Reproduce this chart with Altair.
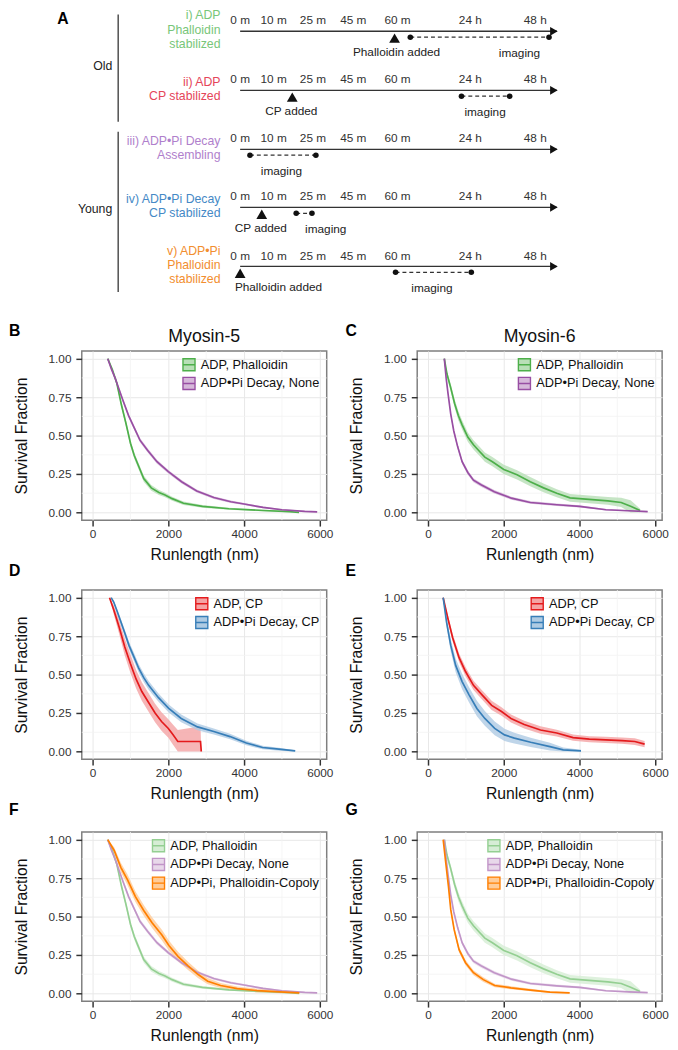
import altair as alt
import pandas as pd

FONT = "Liberation Sans"

# ---------------- Panel A: schematic timelines ----------------
time_labels = ["0 m", "10 m", "25 m", "45 m", "60 m", "24 h", "48 h"]
time_pos = [0, 34, 74, 115, 160, 234, 300]
timeline_end = 322

row_titles = [
    ["i) ADP", "Phalloidin", "stabilized"],
    ["ii) ADP", "CP stabilized"],
    ["iii) ADP•Pi Decay", "Assembling"],
    ["iv) ADP•Pi Decay", "CP stabilized"],
    ["v) ADP•Pi", "Phalloidin", "stabilized"],
]
row_colors = ["#78c679", "#e5455a", "#b07fcc", "#4589c6", "#f28e2f"]
row_y = [28, 88, 148, 207, 267]

added_row = [0, 1, 3, 4]
added_pos = [157, 53, 22, 0]
added_text = ["Phalloidin added", "CP added", "CP added", "Phalloidin added"]
added_text_pos = [159, 52, 21, 39]

imaging_row = [0, 1, 2, 3, 4]
imaging_start = [173, 225, 10, 57, 158]
imaging_end = [314, 274, 77, 73, 235]
imaging_text_pos = [284, 249, 42, 87, 195]

groups = ["Old", "Young"]
group_top = [11, 130]
group_bottom = [120, 293]
group_mid = [63, 209]

# ---------------- Survival curves (Runlength nm, survival fraction, CI half-width) ----------------
m5_phal_x = [400, 520, 640, 760, 880, 1000, 1100, 1200, 1350, 1550, 1750, 1900, 2100, 2400, 2900, 3600, 4500, 5200, 5450]
m5_phal_y = [1.00, 0.93, 0.84, 0.70, 0.58, 0.45, 0.37, 0.31, 0.22, 0.16, 0.13, 0.115, 0.09, 0.06, 0.04, 0.024, 0.013, 0.006, 0.0]
m5_phal_e = [0, 0.01, 0.015, 0.018, 0.02, 0.02, 0.02, 0.02, 0.02, 0.018, 0.016, 0.015, 0.013, 0.011, 0.009, 0.007, 0.005, 0.004, 0.004]

m5_none_x = [400, 500, 600, 700, 800, 950, 1100, 1250, 1450, 1700, 2000, 2350, 2750, 3200, 3650, 4000, 4500, 5000, 5600, 5930]
m5_none_y = [1.00, 0.93, 0.87, 0.80, 0.73, 0.63, 0.55, 0.47, 0.405, 0.33, 0.265, 0.20, 0.14, 0.097, 0.07, 0.055, 0.033, 0.018, 0.007, 0.004]
m5_none_e = [0, 0.008, 0.01, 0.012, 0.013, 0.014, 0.014, 0.014, 0.014, 0.013, 0.012, 0.011, 0.01, 0.009, 0.008, 0.007, 0.006, 0.005, 0.004, 0.003]

m6_phal_x = [430, 500, 600, 700, 800, 900, 1050, 1200, 1350, 1500, 1700, 2000, 2350, 2700, 3050, 3400, 3750, 4250, 4750, 5100, 5350, 5600]
m6_phal_y = [1.00, 0.90, 0.81, 0.71, 0.63, 0.57, 0.49, 0.44, 0.40, 0.36, 0.33, 0.28, 0.245, 0.20, 0.16, 0.125, 0.095, 0.085, 0.075, 0.065, 0.04, 0.013]
m6_phal_e = [0, 0.02, 0.025, 0.028, 0.03, 0.03, 0.03, 0.03, 0.03, 0.03, 0.03, 0.03, 0.03, 0.03, 0.028, 0.026, 0.025, 0.025, 0.025, 0.03, 0.04, 0.012]

m6_none_x = [430, 480, 530, 600, 680, 780, 900, 1050, 1200, 1400, 1750, 2200, 2700, 3400, 4000, 4700, 5300, 5800]
m6_none_y = [1.00, 0.87, 0.77, 0.64, 0.53, 0.43, 0.33, 0.26, 0.21, 0.18, 0.135, 0.093, 0.065, 0.05, 0.04, 0.018, 0.011, 0.006]
m6_none_e = [0, 0.01, 0.012, 0.014, 0.015, 0.015, 0.015, 0.014, 0.013, 0.012, 0.011, 0.01, 0.009, 0.008, 0.007, 0.005, 0.004, 0.003]

m5_cpadp_x = [447, 560, 700, 850, 1000, 1150, 1300, 1450, 1650, 1820, 2000, 2120, 2250, 2850, 2870]
m5_cpadp_y = [1.00, 0.92, 0.81, 0.68, 0.57, 0.47, 0.39, 0.33, 0.25, 0.195, 0.15, 0.11, 0.065, 0.065, 0.0]
m5_cpadp_e = [0, 0.03, 0.045, 0.055, 0.06, 0.06, 0.06, 0.06, 0.06, 0.06, 0.06, 0.065, 0.075, 0.1, 0.0]

m5_cppi_x = [490, 560, 650, 750, 850, 960, 1100, 1220, 1350, 1480, 1740, 2010, 2340, 2770, 3200, 3630, 4060, 4490, 4920, 5350]
m5_cppi_y = [1.00, 0.97, 0.91, 0.84, 0.77, 0.69, 0.61, 0.54, 0.48, 0.43, 0.35, 0.28, 0.215, 0.16, 0.13, 0.097, 0.055, 0.026, 0.015, 0.004]
m5_cppi_e = [0, 0.01, 0.015, 0.02, 0.022, 0.025, 0.027, 0.028, 0.028, 0.028, 0.027, 0.026, 0.025, 0.022, 0.02, 0.018, 0.015, 0.012, 0.01, 0.005]

m6_cpadp_x = [400, 520, 650, 820, 990, 1200, 1420, 1680, 1940, 2190, 2540, 2970, 3400, 3830, 4260, 4690, 5120, 5460, 5720]
m6_cpadp_y = [1.0, 0.87, 0.74, 0.61, 0.52, 0.43, 0.37, 0.30, 0.26, 0.215, 0.175, 0.14, 0.12, 0.09, 0.08, 0.076, 0.071, 0.065, 0.048]
m6_cpadp_e = [0, 0.02, 0.025, 0.028, 0.03, 0.03, 0.03, 0.03, 0.028, 0.026, 0.025, 0.024, 0.022, 0.02, 0.02, 0.02, 0.02, 0.022, 0.02]

m6_cppi_x = [400, 490, 600, 730, 900, 1080, 1290, 1500, 1760, 2020, 2280, 2710, 3220, 3570, 4040]
m6_cppi_y = [1.0, 0.84, 0.69, 0.56, 0.455, 0.37, 0.28, 0.215, 0.15, 0.108, 0.087, 0.06, 0.032, 0.011, 0.004]
m6_cppi_e = [0, 0.03, 0.04, 0.045, 0.05, 0.05, 0.05, 0.048, 0.045, 0.04, 0.035, 0.03, 0.025, 0.015, 0.008]

m5_copoly_x = [400, 570, 745, 920, 1130, 1350, 1570, 1830, 2020, 2260, 2520, 2780, 3040, 3380, 3820, 4340, 4940, 5460]
m5_copoly_y = [1.0, 0.93, 0.82, 0.74, 0.63, 0.54, 0.46, 0.38, 0.31, 0.24, 0.18, 0.125, 0.08, 0.052, 0.032, 0.019, 0.011, 0.004]
m5_copoly_e = [0, 0.02, 0.03, 0.035, 0.035, 0.035, 0.035, 0.035, 0.033, 0.03, 0.027, 0.024, 0.02, 0.017, 0.014, 0.012, 0.01, 0.006]

m6_copoly_x = [400, 470, 540, 600, 690, 820, 990, 1200, 1460, 1760, 2190, 2710, 3220, 3740]
m6_copoly_y = [1.0, 0.845, 0.695, 0.545, 0.415, 0.285, 0.2, 0.135, 0.09, 0.052, 0.037, 0.022, 0.009, 0.004]
m6_copoly_e = [0, 0.01, 0.015, 0.018, 0.018, 0.018, 0.017, 0.016, 0.015, 0.012, 0.01, 0.008, 0.006, 0.004]

S_PHAL = "ADP, Phalloidin"
S_NONE = "ADP•Pi Decay, None"
S_CPADP = "ADP, CP"
S_CPPI = "ADP•Pi Decay, CP"
S_COPOLY = "ADP•Pi, Phalloidin-Copoly"

x_ticks = [0, 2000, 4000, 6000]
y_ticks = [0, 0.25, 0.5, 0.75, 1.0]
x_minor = [1000, 3000, 5000]
y_minor = [0.125, 0.375, 0.625, 0.875]

# ---------------- layout / style constants ----------------
A_W, A_H = 588, 320
A_XDOM = [-161, 427]
A_YDOM = [4, 4 + A_H]
ROW_TITLE_X = -20
BRACKET_X = -124
GROUP_TEXT_X = -130
LETTER_A_X = -186
LETTER_A_Y = 21
P_W, P_H = 249, 172
X_DOM = [-286, 6182]
Y_DOM = [-0.05, 1.05]
LEGEND_SYMBOL = "M-1,-1H1V1H-1Z M-1,0H1"
IND = dict(fill="independent", stroke="independent", color="independent")

X_AXIS = alt.Axis(
    values=x_ticks, format="d", title="Runlength (nm)", grid=True, gridColor="#e8e8e8", gridWidth=1,
    domain=False, tickColor="#333", tickWidth=1.5, tickSize=6, labelFontSize=12,
    labelColor="#333", labelPadding=3, labelFlush=False, titleFontSize=16,
    titleFontWeight="normal", titleColor="#111", titlePadding=7, labelFont=FONT, titleFont=FONT)
Y_AXIS = alt.Axis(
    values=y_ticks, format=".2f", title="Survival Fraction", grid=True, gridColor="#e8e8e8",
    gridWidth=1, domain=False, tickColor="#333", tickWidth=1.5, tickSize=6, labelFontSize=12,
    labelColor="#333", labelPadding=5, titleFontSize=16, titleFontWeight="normal",
    titleColor="#111", titlePadding=19, labelFont=FONT, titleFont=FONT)


def curve(name, xs, ys, es):
    return pd.DataFrame({
        "series": name, "x": xs, "y": ys,
        "lo": [max(0.0, a - e) for a, e in zip(ys, es)],
        "hi": [min(1.0, a + e) for a, e in zip(ys, es)],
    })


letter_dx = {"B": -74, "C": -73, "D": -74, "E": -73, "F": -74, "G": -73}


def survival_panel(curves, order, stroke_range, fill_range, letter, letter_dy, title=None):
    df = pd.concat(curves, ignore_index=True)
    xs = alt.Scale(domain=X_DOM, nice=False, zero=False)
    ys = alt.Scale(domain=Y_DOM, nice=False, zero=False)
    leg = dict(title=None, orient="top-right", offset=7, padding=0,
               labelFontSize=13, labelFont=FONT, labelColor="#111", labelLimit=300,
               labelOffset=5, symbolType=LEGEND_SYMBOL, symbolSize=150,
               symbolStrokeWidth=1.4, rowPadding=1, symbolOpacity=1)

    gx = alt.Chart(pd.DataFrame({"v": x_minor})).mark_rule(color="#f3f3f3", strokeWidth=0.8).encode(
        x=alt.X("v:Q", scale=xs, axis=X_AXIS))
    gy = alt.Chart(pd.DataFrame({"v": y_minor})).mark_rule(color="#f3f3f3", strokeWidth=0.8).encode(
        y=alt.Y("v:Q", scale=ys, axis=Y_AXIS))

    area = alt.Chart(df).mark_area(fillOpacity=0.8).encode(
        x=alt.X("x:Q", scale=xs, axis=X_AXIS),
        y=alt.Y("lo:Q", scale=ys, axis=Y_AXIS),
        y2="hi:Q",
        fill=alt.Fill("series:N", scale=alt.Scale(domain=order, range=fill_range), legend=alt.Legend(**leg)),
    )
    line = alt.Chart(df).mark_line(strokeWidth=1.7).encode(
        x=alt.X("x:Q", scale=xs, axis=X_AXIS),
        y=alt.Y("y:Q", scale=ys, axis=Y_AXIS),
        stroke=alt.Stroke("series:N", scale=alt.Scale(domain=order, range=stroke_range), legend=alt.Legend(**leg)),
    )
    lt = alt.Chart(pd.DataFrame({"t": [letter]})).mark_text(
        align="left", baseline="alphabetic", fontSize=16, fontWeight="bold", font=FONT, color="#000"
    ).encode(text="t:N", x=alt.value(letter_dx[letter]), y=alt.value(letter_dy))
    layers = [gx, gy, area, line, lt]
    if title:
        tt = alt.Chart(pd.DataFrame({"t": [title]})).mark_text(
            align="center", baseline="alphabetic", fontSize=18, font=FONT, color="#111"
        ).encode(text="t:N", x=alt.value(P_W / 2), y=alt.value(-9))
        layers.append(tt)
    return alt.layer(*layers).properties(
        width=P_W, height=P_H, view=alt.ViewBackground(stroke="#7f7f7f", strokeWidth=1.5, fill="white"))


GREEN, PURPLE, RED, BLUE, ORANGE = "#4daf4a", "#984ea3", "#e41a1c", "#377eb8", "#ff7f00"
GREEN_L, PURPLE_L, RED_L, BLUE_L, ORANGE_L = "#b8dfb7", "#d6b8da", "#f4a3a4", "#afcbe3", "#ffcc99"
GREEN_M, PURPLE_M = "#94cf92", "#c195c8"
GREEN_XL, PURPLE_XL = "#d6edd5", "#e8d8ea"

pB = survival_panel([curve(S_PHAL, m5_phal_x, m5_phal_y, m5_phal_e), curve(S_NONE, m5_none_x, m5_none_y, m5_none_e)],
                    [S_PHAL, S_NONE], [GREEN, PURPLE], [GREEN_L, PURPLE_L], "B", -15, "Myosin-5")
pC = survival_panel([curve(S_PHAL, m6_phal_x, m6_phal_y, m6_phal_e), curve(S_NONE, m6_none_x, m6_none_y, m6_none_e)],
                    [S_PHAL, S_NONE], [GREEN, PURPLE], [GREEN_L, PURPLE_L], "C", -15, "Myosin-6")
pD = survival_panel([curve(S_CPADP, m5_cpadp_x, m5_cpadp_y, m5_cpadp_e), curve(S_CPPI, m5_cppi_x, m5_cppi_y, m5_cppi_e)],
                    [S_CPADP, S_CPPI], [RED, BLUE], [RED_L, BLUE_L], "D", -14)
pE = survival_panel([curve(S_CPADP, m6_cpadp_x, m6_cpadp_y, m6_cpadp_e), curve(S_CPPI, m6_cppi_x, m6_cppi_y, m6_cppi_e)],
                    [S_CPADP, S_CPPI], [RED, BLUE], [RED_L, BLUE_L], "E", -14)
pF = survival_panel([curve(S_PHAL, m5_phal_x, m5_phal_y, m5_phal_e), curve(S_NONE, m5_none_x, m5_none_y, m5_none_e),
                     curve(S_COPOLY, m5_copoly_x, m5_copoly_y, m5_copoly_e)],
                    [S_PHAL, S_NONE, S_COPOLY], [GREEN_M, PURPLE_M, ORANGE], [GREEN_XL, PURPLE_XL, ORANGE_L], "F", -17)
pG = survival_panel([curve(S_PHAL, m6_phal_x, m6_phal_y, m6_phal_e), curve(S_NONE, m6_none_x, m6_none_y, m6_none_e),
                     curve(S_COPOLY, m6_copoly_x, m6_copoly_y, m6_copoly_e)],
                    [S_PHAL, S_NONE, S_COPOLY], [GREEN_M, PURPLE_M, ORANGE], [GREEN_XL, PURPLE_XL, ORANGE_L], "G", -17)

# ---------------- Panel A construction ----------------
xa = alt.Scale(domain=A_XDOM, nice=False, zero=False)
ya = alt.Scale(domain=A_YDOM, nice=False, zero=False, reverse=True)

lines_df = pd.DataFrame({"y": row_y, "x0": 0, "x1": timeline_end, "xh": timeline_end - 3})
tl = alt.Chart(lines_df).mark_rule(color="#333", strokeWidth=1.4).encode(
    x=alt.X("x0:Q", scale=xa, axis=None), x2="x1:Q", y=alt.Y("y:Q", scale=ya, axis=None))
heads = alt.Chart(lines_df).mark_point(shape="triangle-right", filled=True, size=80, color="#111", opacity=1).encode(
    x=alt.X("xh:Q", scale=xa, axis=None), y=alt.Y("y:Q", scale=ya, axis=None))

tick_rows = [{"label": lab, "x": p, "y": ry - 11} for ry in row_y for lab, p in zip(time_labels, time_pos)]
ticks_t = alt.Chart(pd.DataFrame(tick_rows)).mark_text(fontSize=12, color="#333", baseline="middle", font=FONT).encode(
    x=alt.X("x:Q", scale=xa, axis=None), y=alt.Y("y:Q", scale=ya, axis=None), text="label:N")

title_rows = []
for i, lines in enumerate(row_titles):
    n = len(lines)
    for k, t in enumerate(lines):
        title_rows.append({"row": str(i), "t": t, "x": ROW_TITLE_X, "y": row_y[i] - 1.5 + (k - (n - 1) / 2) * 14.5})
rtitles = alt.Chart(pd.DataFrame(title_rows)).mark_text(align="right", baseline="middle", fontSize=12.5, font=FONT).encode(
    x=alt.X("x:Q", scale=xa, axis=None), y=alt.Y("y:Q", scale=ya, axis=None), text="t:N",
    color=alt.Color("row:N", scale=alt.Scale(domain=[str(i) for i in range(5)], range=row_colors), legend=None))

added_df = pd.DataFrame({"x": added_pos, "y": [row_y[r] + 7 for r in added_row],
                         "tx": added_text_pos, "ty": [row_y[r] + 21 for r in added_row], "t": added_text})
tri = alt.Chart(added_df).mark_point(shape="triangle-up", filled=True, size=120, color="#111", opacity=1).encode(
    x=alt.X("x:Q", scale=xa, axis=None), y=alt.Y("y:Q", scale=ya, axis=None))
tri_t = alt.Chart(added_df).mark_text(fontSize=12, color="#222", baseline="middle", font=FONT).encode(
    x=alt.X("tx:Q", scale=xa, axis=None), y=alt.Y("ty:Q", scale=ya, axis=None), text="t:N")

img_df = pd.DataFrame({"x0": imaging_start, "x1": imaging_end, "y": [row_y[r] + 6 for r in imaging_row],
                       "tx": imaging_text_pos, "ty": [row_y[r] + 22 for r in imaging_row], "t": "imaging"})
img_pts = pd.DataFrame({"x": imaging_start + imaging_end, "y": [row_y[r] + 6 for r in imaging_row] * 2})
img_l = alt.Chart(img_df).mark_rule(color="#333", strokeWidth=1.3, strokeDash=[4, 3]).encode(
    x=alt.X("x0:Q", scale=xa, axis=None), x2="x1:Q", y=alt.Y("y:Q", scale=ya, axis=None))
img_c = alt.Chart(img_pts).mark_circle(size=32, color="#111", opacity=1).encode(
    x=alt.X("x:Q", scale=xa, axis=None), y=alt.Y("y:Q", scale=ya, axis=None))
img_t = alt.Chart(img_df).mark_text(fontSize=12, color="#222", baseline="middle", font=FONT).encode(
    x=alt.X("tx:Q", scale=xa, axis=None), y=alt.Y("ty:Q", scale=ya, axis=None), text="t:N")

grp_df = pd.DataFrame({"g": groups, "top": group_top, "bot": group_bottom, "mid": group_mid,
                       "bx": BRACKET_X, "tx": GROUP_TEXT_X})
br = alt.Chart(grp_df).mark_rule(color="#333", strokeWidth=1.3).encode(
    x=alt.X("bx:Q", scale=xa, axis=None), y=alt.Y("top:Q", scale=ya, axis=None), y2="bot:Q")
br_t = alt.Chart(grp_df).mark_text(align="right", baseline="middle", fontSize=12.5, color="#222", font=FONT).encode(
    x=alt.X("tx:Q", scale=xa, axis=None), y=alt.Y("mid:Q", scale=ya, axis=None), text="g:N")
la = alt.Chart(pd.DataFrame({"t": ["A"], "x": [LETTER_A_X], "y": [LETTER_A_Y]})).mark_text(
    align="left", baseline="alphabetic", fontSize=16, fontWeight="bold", font=FONT, color="#000").encode(
    x=alt.X("x:Q", scale=xa, axis=None), y=alt.Y("y:Q", scale=ya, axis=None), text="t:N")

panelA = alt.layer(tl, heads, ticks_t, rtitles, img_l, img_c, img_t, tri, tri_t, br, br_t, la).properties(
    width=A_W, height=A_H, view=alt.ViewBackground(stroke="transparent"))

row1 = alt.hconcat(pB, pC, spacing=10).resolve_scale(**IND)
row2 = alt.hconcat(pD, pE, spacing=10).resolve_scale(**IND)
row3 = alt.hconcat(pF, pG, spacing=10).resolve_scale(**IND)

chart = alt.vconcat(panelA, row1, row2, row3, spacing=-1).resolve_scale(**IND).properties(
    padding={"left": 0, "top": -10, "right": 0, "bottom": 0}
).configure(font=FONT, background="white")

chart.save("out.html", embed_options={"renderer": "svg", "actions": False})
